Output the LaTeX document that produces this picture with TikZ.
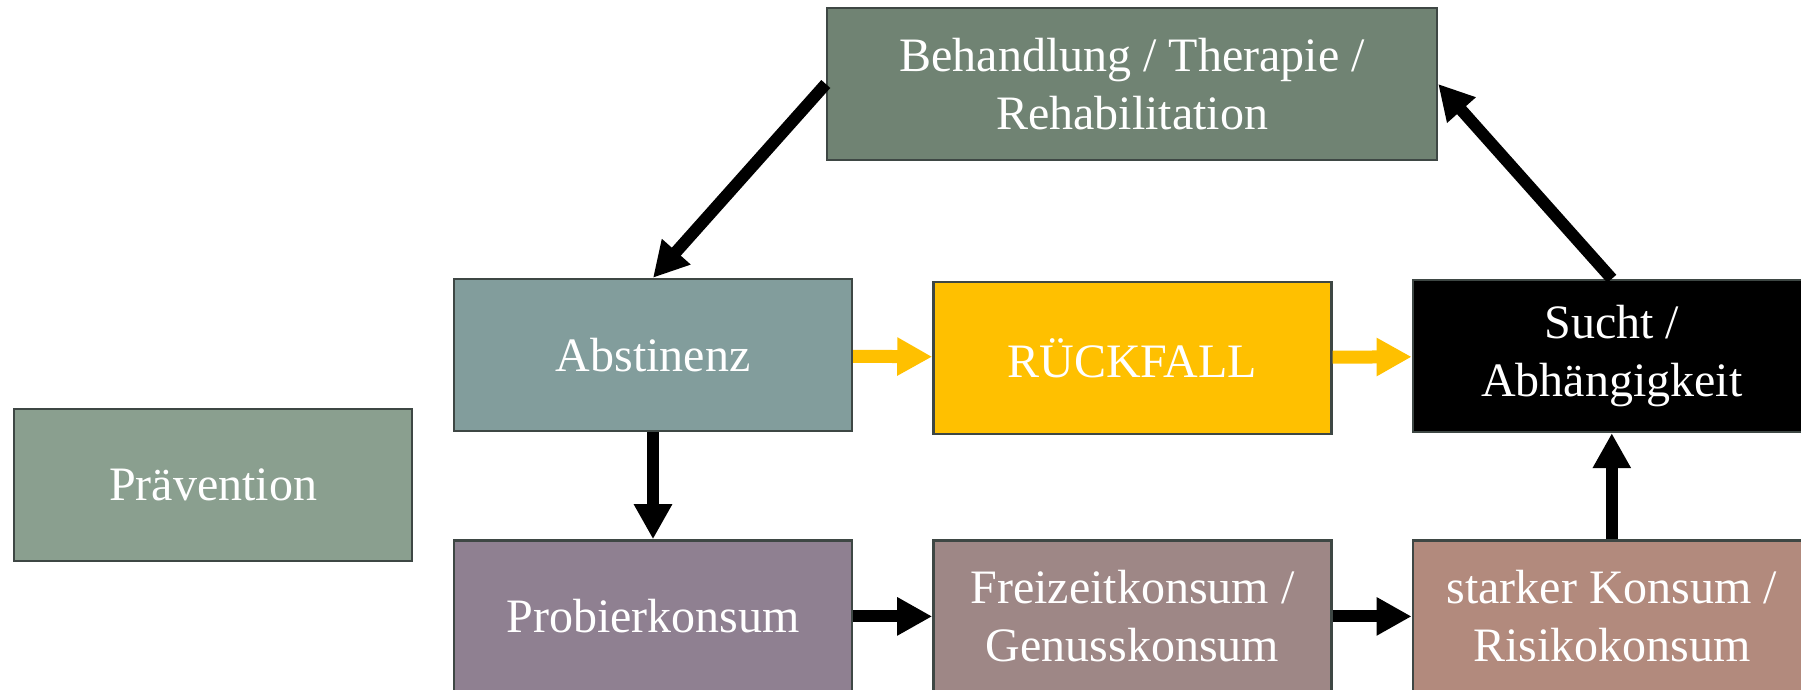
\documentclass[tikz,border=0pt]{standalone}
\usepackage{fontspec}
\setmainfont{Liberation Serif}
\usetikzlibrary{arrows.meta,positioning}
\definecolor{ink}{HTML}{3E4744}
\definecolor{treatbg}{HTML}{708373}
\definecolor{abstbg}{HTML}{829D9C}
\definecolor{rueckbg}{HTML}{FFC000}
\definecolor{praevbg}{HTML}{8A9F8F}
\definecolor{probbg}{HTML}{8F8091}
\definecolor{freibg}{HTML}{9E8786}
\definecolor{starkbg}{HTML}{B28A7D}

\begin{document}
\begin{tikzpicture}[x=0.5pt,y=-0.5pt,
  font=\fontsize{24}{29}\selectfont,
  box/.style={draw=ink,line width=1.2pt,minimum width=199pt,minimum height=76pt,
              align=center,text=white,inner sep=0pt},
  arr/.style={-{Triangle[length=17.5pt,width=18pt]},line width=6pt,draw=black},
  yarr/.style={arr,line width=6.5pt,draw=rueckbg}]

\useasboundingbox (0,0) rectangle (1801,690);
\clip (0,0) rectangle (1801,690);

\node[box,fill=treatbg,minimum width=305pt] (treat) at (1132,84) {Behandlung / Therapie /\\Rehabilitation};
\node[box,fill=abstbg] (abst) at (653,355) {Abstinenz};
\node[box,fill=rueckbg,right=39.5pt of abst,yshift=-1.5pt] (rueck) {RÜCKFALL};
\node[box,fill=black,right=39.5pt of rueck,yshift=1pt] (sucht) {Sucht /\\Abhängigkeit};
\node[box,fill=probbg,below=53.5pt of abst] (probier) {Probierkonsum};
\node[box,fill=freibg,right=39.5pt of probier] (frei) {Freizeitkonsum /\\Genusskonsum};
\node[box,fill=starkbg,right=39.5pt of frei] (stark) {starker Konsum /\\Risikokonsum};
\node[box,fill=praevbg] (praev) at (213,485) {Prävention};

\draw[arr] (treat.west) -- (abst.north);
\draw[arr] (sucht.north) -- (treat.east);
\draw[arr] (abst) -- (probier);
\draw[arr] (probier) -- (frei);
\draw[arr] (frei) -- (stark);
\draw[arr] (stark) -- (sucht);
\draw[yarr] (abst) -- (rueck);
\draw[yarr] (rueck) -- (sucht);
\end{tikzpicture}
\end{document}
